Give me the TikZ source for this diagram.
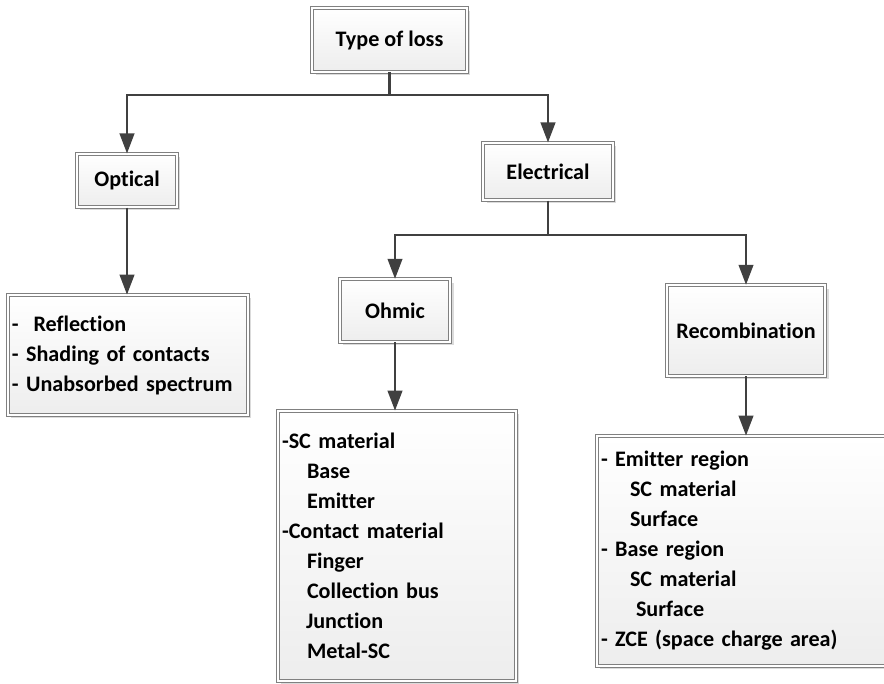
\documentclass[tikz,border=0pt]{standalone}
\usepackage{fontspec}
\setmainfont{Carlito}[Ligatures=NoCommon]
\usepackage{tikz}
\usetikzlibrary{arrows.meta,shadows}
\newcommand{\boxfont}{\fontsize{16.6}{22.5}\selectfont\bfseries\hyphenpenalty=10000\relax}

\begin{document}
\begin{tikzpicture}[x=0.75pt,y=-0.75pt,
    box/.style={draw=black!50,double=white,double distance=1.6pt,line width=0.6pt,
      top color=white,bottom color=black!7,
      drop shadow={shadow xshift=2.5pt,shadow yshift=-2.5pt,fill=black!20,opacity=0.7},
      font=\boxfont,inner sep=0pt},
    listbox/.style={box,align=left,inner xsep=3pt},
    link/.style={draw=black!75,line width=1.6pt},
    arr/.style={link,-{Triangle[length=15pt,width=11pt]}}]
      \useasboundingbox (0,0) rectangle (884,684);
      % upper boxes
      \node[box,minimum width=116pt,minimum height=48pt] (type) at (389.5,40) {Type of loss};
      \node[box,minimum width=75pt,minimum height=40pt] (optical) at (127,180.5) {Optical};
      \node[box,minimum width=97pt,minimum height=43pt] (electrical) at (548,171.5) {Electrical};
      \node[box,minimum width=83pt,minimum height=47pt] (ohmic) at (395,310.5) {Ohmic};
      \node[box,minimum width=119pt,minimum height=68pt] (recomb) at (746,330.5) {Recombination};
      % lists
      \node[listbox,text width=174pt,minimum height=90pt] (optlist) at (128,355) {-\ \ Reflection\\
        - Shading of contacts\\
        - Unabsorbed spectrum};
      \node[listbox,text width=172.5pt,minimum height=202.5pt] (ohmlist) at (397,546) {-SC material\\
        \hspace*{18.75pt}Base\\
        \hspace*{18.75pt}Emitter\\
        -Contact material\\
        \hspace*{18.75pt}Finger\\
        \hspace*{18.75pt}Collection bus\\
        \hspace*{18pt}Junction\\
        \hspace*{18.75pt}Metal-SC};
      \node[listbox,text width=217.5pt,minimum height=172.5pt] (reclist) at (746,551) {- Emitter region\\
        \hspace*{21.75pt}SC material\\
        \hspace*{21.75pt}Surface\\
        - Base region\\
        \hspace*{21.75pt}SC material\\
        \hspace*{26.25pt}Surface\\
        - ZCE (space charge area)};
      % connectors
      \coordinate (j1) at (389.5,95);
      \coordinate (j2) at (548,235);
      \draw[link] (type) -- (j1);
      \draw[arr] (j1) -| (optical);
      \draw[arr] (j1) -| (electrical);
      \draw[link] (electrical) -- (j2);
      \draw[arr] (j2) -| (ohmic);
      \draw[arr] (j2) -| (recomb);
      \draw[arr] (optical) -- (optical |- optlist.north);
      \draw[arr] (ohmic) -- (ohmic |- ohmlist.north);
      \draw[arr] (recomb) -- (recomb |- reclist.north);
    \end{tikzpicture}
\end{document}
